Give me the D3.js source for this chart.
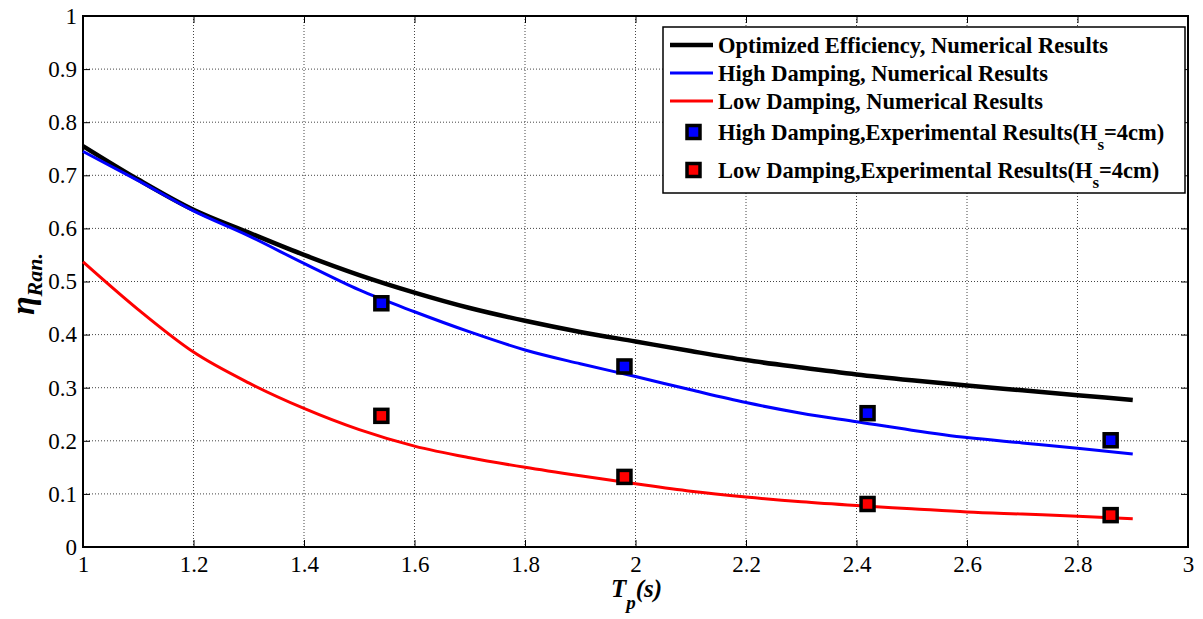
<!DOCTYPE html>
<html>
<head>
<meta charset="utf-8">
<script src="https://cdn.jsdelivr.net/npm/d3@7"></script>
<style>
  body { margin: 0; background: #fff; }
  svg { display: block; font-family: "Liberation Serif", "Times New Roman", serif; }
  .grid line { stroke: #444; stroke-width: 1; stroke-dasharray: 1,2; }
</style>
</head>
<body>
<div id="chart"></div>
<script>
// periods Tp (s)
const tp = [1.0, 1.1, 1.2, 1.3, 1.4, 1.5, 1.6, 1.7, 1.8, 1.9, 2.0, 2.1, 2.2, 2.3, 2.4, 2.5, 2.6, 2.7, 2.8, 2.9];
const optimized = [0.755, 0.692, 0.635, 0.592, 0.550, 0.512, 0.479, 0.450, 0.426, 0.405, 0.387, 0.369, 0.352, 0.338, 0.325, 0.314, 0.304, 0.295, 0.286, 0.277];
const highDamp = [0.745, 0.690, 0.633, 0.586, 0.534, 0.484, 0.443, 0.405, 0.371, 0.345, 0.321, 0.296, 0.272, 0.252, 0.236, 0.220, 0.206, 0.196, 0.186, 0.175];
const lowDamp = [0.537, 0.447, 0.367, 0.309, 0.261, 0.221, 0.190, 0.168, 0.150, 0.134, 0.119, 0.105, 0.094, 0.085, 0.078, 0.072, 0.066, 0.062, 0.058, 0.053];

// experimental points
const expTp = [1.54, 1.98, 2.42, 2.86];
const expHigh = [0.459, 0.340, 0.252, 0.201];
const expLow = [0.247, 0.132, 0.081, 0.060];

const xTicks = [1, 1.2, 1.4, 1.6, 1.8, 2, 2.2, 2.4, 2.6, 2.8, 3];
const yTicks = [0, 0.1, 0.2, 0.3, 0.4, 0.5, 0.6, 0.7, 0.8, 0.9, 1];

const W = 1203, H = 619;
const margin = {top: 16, right: 15, bottom: 72, left: 83};
const width = W - margin.left - margin.right;
const height = H - margin.top - margin.bottom;
const serif = '"Liberation Serif", "Times New Roman", serif';

const svg = d3.select('#chart').append('svg').attr('width', W).attr('height', H);
const g = svg.append('g').attr('transform', `translate(${margin.left},${margin.top})`);

const x = d3.scaleLinear().domain([1, 3]).range([0, width]);
const y = d3.scaleLinear().domain([0, 1]).range([height, 0]);

// grid
const grid = g.append('g').attr('class', 'grid');
grid.selectAll('.gx').data(xTicks.slice(1, -1)).enter().append('line')
    .attr('x1', d => x(d)).attr('x2', d => x(d)).attr('y1', 0).attr('y2', height);
grid.selectAll('.gy').data(yTicks.slice(1, -1)).enter().append('line')
    .attr('y1', d => y(d)).attr('y2', d => y(d)).attr('x1', 0).attr('x2', width);

// axes, ticks pointing inward on all sides
const fmt = d => String(+d.toFixed(1));
function styleAxis(a) {
    a.select('.domain').remove();
    a.attr('font-family', serif).attr('font-size', 23);
    a.selectAll('.tick text').attr('fill', '#000').style('font-family', serif);
    a.selectAll('.tick line').attr('stroke', '#000').attr('stroke-width', 1);
}
g.append('g').attr('transform', `translate(0,${height})`)
    .call(d3.axisBottom(x).tickValues(xTicks).tickSize(-7).tickPadding(9).tickFormat(fmt))
    .call(styleAxis);
g.append('g')
    .call(d3.axisLeft(y).tickValues(yTicks).tickSize(-7).tickPadding(6).tickFormat(fmt))
    .call(styleAxis);
g.append('g')
    .call(d3.axisTop(x).tickValues(xTicks).tickSize(-7).tickFormat(''))
    .call(styleAxis);
g.append('g').attr('transform', `translate(${width},0)`)
    .call(d3.axisRight(y).tickValues(yTicks).tickSize(-7).tickFormat(''))
    .call(styleAxis);

g.append('rect').attr('width', width).attr('height', height)
    .attr('fill', 'none').attr('stroke', '#000').attr('stroke-width', 2);

// curves
const line = d3.line().x((d, i) => x(tp[i])).y(d => y(d)).curve(d3.curveMonotoneX);
const series = [
    {values: optimized, color: '#000', w: 4.5},
    {values: highDamp, color: '#0000ff', w: 3},
    {values: lowDamp, color: '#ff0000', w: 3}
];
series.forEach(s => {
    g.append('path').datum(s.values).attr('d', line)
        .attr('fill', 'none').attr('stroke', s.color).attr('stroke-width', s.w);
});

// experimental markers
function markers(vals, color) {
    g.selectAll(null).data(vals).enter().append('rect')
        .attr('x', (d, i) => x(expTp[i]) - 6.5)
        .attr('y', d => y(d) - 6.5)
        .attr('width', 13).attr('height', 13)
        .attr('fill', color).attr('stroke', '#000').attr('stroke-width', 3.5);
}
markers(expHigh, '#0000ff');
markers(expLow, '#ff0000');

// axis labels
const xl = svg.append('text').attr('x', 611).attr('y', 597)
    .attr('font-size', 25).attr('font-weight', 'bold').attr('font-style', 'italic');
xl.append('tspan').text('T');
xl.append('tspan').attr('dy', 12).attr('font-size', 19).text('p');
xl.append('tspan').attr('dy', -12).text('(s)');

const yl = svg.append('text').attr('transform', 'translate(34,284) rotate(-90)')
    .attr('text-anchor', 'middle')
    .attr('font-weight', 'bold').attr('font-style', 'italic').attr('font-size', 34);
yl.append('tspan').text('η');
yl.append('tspan').attr('dy', 8).attr('font-size', 22).text('Ran.');

// legend
const lg = svg.append('g');
lg.append('rect').attr('x', 663).attr('y', 27).attr('width', 522).attr('height', 166)
    .attr('fill', '#fff').attr('stroke', '#000').attr('stroke-width', 1.5);
const legendItems = [
    {label: 'Optimized Efficiency, Numerical Results', color: '#000', type: 'line', w: 4.5, y: 45},
    {label: 'High Damping, Numerical Results', color: '#0000ff', type: 'line', w: 3, y: 73},
    {label: 'Low Damping, Numerical Results', color: '#ff0000', type: 'line', w: 3, y: 101},
    {label: 'High Damping,Experimental Results(H', color: '#0000ff', type: 'box', y: 132},
    {label: 'Low Damping,Experimental Results(H', color: '#ff0000', type: 'box', y: 170}
];
legendItems.forEach(it => {
    if (it.type === 'line') {
        lg.append('line').attr('x1', 670).attr('x2', 713).attr('y1', it.y).attr('y2', it.y)
            .attr('stroke', it.color).attr('stroke-width', it.w);
    } else {
        lg.append('rect').attr('x', 687).attr('y', it.y - 6.5).attr('width', 13).attr('height', 13)
            .attr('fill', it.color).attr('stroke', '#000').attr('stroke-width', 3.5);
    }
    const t = lg.append('text').attr('x', 718).attr('y', it.y + 7.5)
        .attr('font-size', 22.5).attr('font-weight', 'bold').text(it.label);
    if (it.type === 'box') {
        t.append('tspan').attr('dy', 10).attr('font-size', 17).text('s');
        t.append('tspan').attr('dy', -10).text('=4cm)');
    }
});
</script>
</body>
</html>
